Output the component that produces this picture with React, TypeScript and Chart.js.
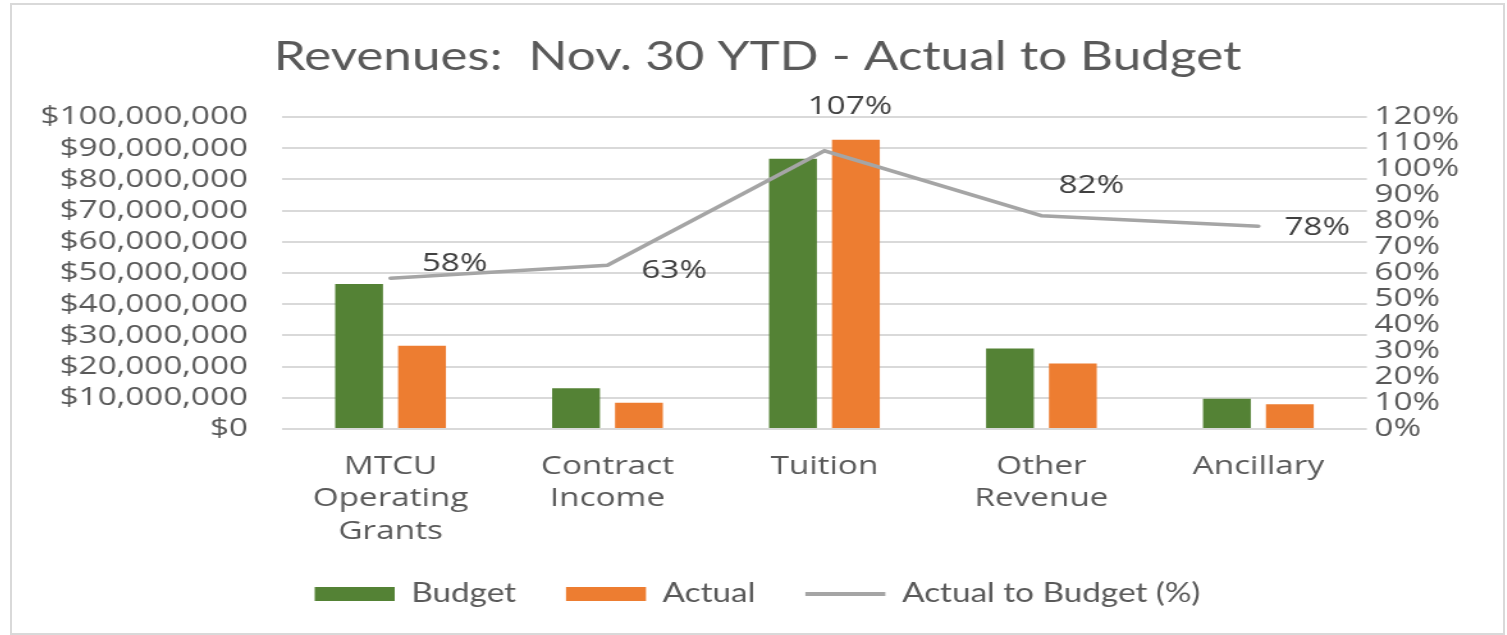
import React, { useEffect, useRef } from "react";
import { Chart, registerables } from "chart.js";

Chart.register(...registerables);

// ---- data ----
const categories: (string | string[])[] = [
  ["MTCU", "Operating", "Grants"],
  ["Contract", "Income"],
  "Tuition",
  ["Other", "Revenue"],
  "Ancillary",
];
const budgetValues = [46500000, 13100000, 86600000, 25800000, 9700000];
const actualValues = [26700000, 8400000, 92700000, 21000000, 7900000];
const actualToBudgetPct = [58, 63, 107, 82, 78];
const seriesNames = ["Budget", "Actual", "Actual to Budget (%)"];
const titleText = "Revenues:  Nov. 30 YTD - Actual to Budget";
const leftAxisMax = 100000000;
const leftAxisStep = 10000000;
const rightAxisMax = 120;
const rightAxisStep = 10;

// ---- styling / layout ----
const STRETCH = 1.28;
const CSS_W = 1491;
const CSS_H = 628;
const W = Math.round(CSS_W / STRETCH);
const H = CSS_H;
const AREA_LEFT = 211;
const AREA_RIGHT = 1058.6;
const labelOffsets: [number, number][] = [
  [50, -15],
  [52, 5],
  [20, -44],
  [39, -30],
  [46, 1],
];
const TEXT = "#595959";
const tickFont = { family: "'Open Sans'", size: 26, lineHeight: 1.25 };

const pctLabelPlugin = {
  id: "pctLabels",
  afterDatasetsDraw(chart: any) {
    const meta = chart.getDatasetMeta(2);
    const ctx = chart.ctx;
    ctx.save();
    ctx.font = "26px 'Open Sans'";
    ctx.fillStyle = "#404040";
    ctx.textAlign = "center";
    ctx.textBaseline = "middle";
    meta.data.forEach((pt: any, i: number) => {
      const [dx, dy] = labelOffsets[i];
      ctx.fillText(`${actualToBudgetPct[i]}%`, pt.x + dx, pt.y + dy);
    });
    ctx.restore();
  },
};

export default function App() {
  const ref = useRef<HTMLCanvasElement | null>(null);

  useEffect(() => {
    if (!ref.current) return;
    const chart = new Chart(ref.current, {
      type: "bar",
      data: {
        labels: categories,
        datasets: [
          {
            type: "bar",
            label: seriesNames[0],
            data: budgetValues,
            backgroundColor: "#548235",
            borderWidth: 0,
            yAxisID: "y",
            order: 2,
            categoryPercentage: 0.58,
            barPercentage: 0.76,
          },
          {
            type: "bar",
            label: seriesNames[1],
            data: actualValues,
            backgroundColor: "#ed7d31",
            borderWidth: 0,
            yAxisID: "y",
            order: 2,
            categoryPercentage: 0.58,
            barPercentage: 0.76,
          },
          {
            type: "line",
            label: seriesNames[2],
            data: actualToBudgetPct,
            borderColor: "#a5a5a5",
            backgroundColor: "#a5a5a5",
            borderWidth: 3.6,
            borderCapStyle: "round",
            pointRadius: 0,
            tension: 0,
            yAxisID: "y1",
            order: 0,
          } as any,
        ],
      },
      options: {
        responsive: false,
        animation: false,
        devicePixelRatio: 1,
        layout: { padding: { top: 0, left: 0, right: 0, bottom: 16 } },
        plugins: {
          title: {
            display: true,
            text: titleText,
            color: TEXT,
            font: { family: "Lato", size: 40, weight: "normal", lineHeight: 1.2 },
            padding: { top: 28, bottom: 36 },
          },
          legend: {
            position: "bottom",
            labels: {
              usePointStyle: true,
              pointStyleWidth: 62.5,
              boxHeight: 14,
              padding: 39,
              color: TEXT,
              font: { family: "Lato", size: 26 },
              generateLabels: (c: any) => {
                const items = (Chart.defaults.plugins.legend.labels as any).generateLabels(c);
                items.sort((a: any, b: any) => a.datasetIndex - b.datasetIndex);
                return items.map((it: any) => {
                  const isLine = it.datasetIndex === 2;
                  return {
                    ...it,
                    pointStyle: isLine ? "line" : "rect",
                    lineWidth: isLine ? 4 : 0,
                    strokeStyle: isLine ? "#a5a5a5" : it.fillStyle,
                  };
                });
              },
            },
          },
          tooltip: { enabled: false },
        },
        scales: {
          x: {
            grid: { display: false },
            border: { display: false },
            ticks: {
              color: TEXT,
              font: tickFont,
              padding: 13,
              maxRotation: 0,
              autoSkip: false,
            },
            afterFit: (s: any) => {
              s.height = 113;
            },
          },
          y: {
            position: "left",
            min: 0,
            max: leftAxisMax,
            ticks: {
              stepSize: leftAxisStep,
              autoSkip: false,
              color: TEXT,
              font: tickFont,
              padding: 26.6,
              callback: (v: any) => "$" + Number(v).toLocaleString("en-US"),
            },
            grid: { color: "#d9d9d9", lineWidth: 2, drawTicks: false },
            border: { display: false },
            afterFit: (s: any) => {
              s.width = AREA_LEFT;
            },
          },
          y1: {
            position: "right",
            min: 0,
            max: rightAxisMax,
            ticks: {
              stepSize: rightAxisStep,
              autoSkip: false,
              color: TEXT,
              font: tickFont,
              padding: 6,
              callback: (v: any) => `${v}%`,
            },
            grid: { display: false, drawTicks: false },
            border: { display: false },
            afterFit: (s: any) => {
              s.width = W - AREA_RIGHT;
            },
          },
        },
      } as any,
      plugins: [pctLabelPlugin],
    });
    return () => chart.destroy();
  }, []);

  return (
    <div
      style={{
        position: "absolute",
        left: 10,
        top: 3,
        width: CSS_W + 4,
        height: CSS_H + 4,
        border: "2px solid #d9d9d9",
        boxSizing: "border-box",
        background: "#fff",
      }}
    >
      <canvas
        ref={ref}
        width={W}
        height={H}
        style={{ display: "block", width: CSS_W, height: CSS_H }}
      />
    </div>
  );
}
